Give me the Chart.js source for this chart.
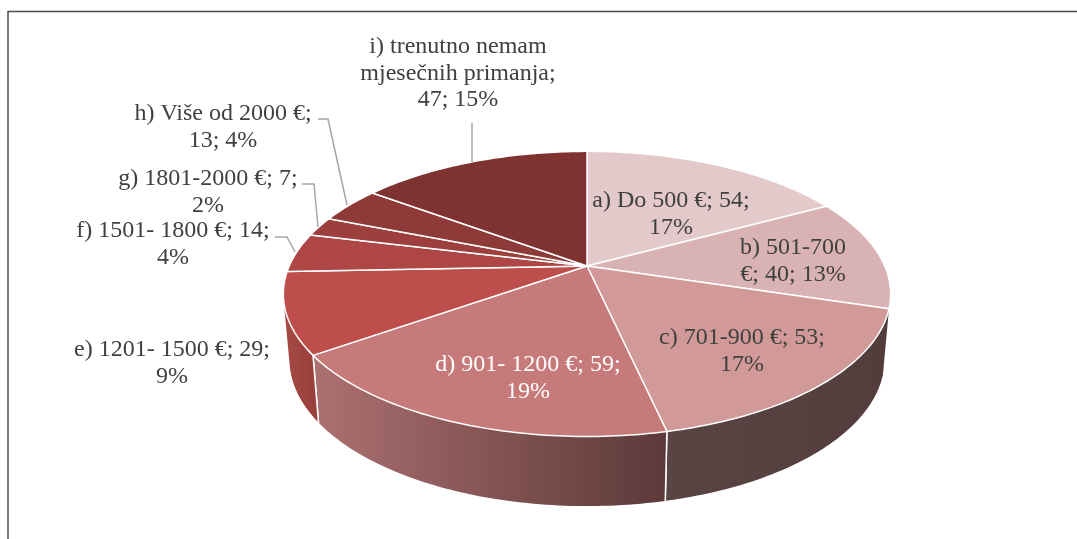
<!DOCTYPE html>
<html>
<head>
<meta charset="utf-8">
<title>Mjesečna primanja</title>
<style>
  html, body { margin: 0; padding: 0; background: #fff; }
  #wrap { position: relative; width: 1077px; height: 539px; }
</style>
<script src="https://cdn.jsdelivr.net/npm/chart.js@4/dist/chart.umd.js"></script>
</head>
<body>
<div id="wrap"><canvas id="pie"></canvas></div>
<script>
const categories = ['a) Do 500 €', 'b) 501-700 €', 'c) 701-900 €', 'd) 901- 1200 €', 'e) 1201- 1500 €', 'f) 1501- 1800 €', 'g) 1801-2000 €', 'h) Više od 2000 €', 'i) trenutno nemam mjesečnih primanja']
const values = [54, 40, 53, 59, 29, 14, 7, 13, 47]

const sliceColors = ['#e3c9c9', '#d9b3b3', '#d19998', '#c67a79', '#bd4e4b', '#ad4644', '#9c3f3d', '#8e3a38', '#7f3331']
const wallColors = [
  ['#523c3c', '#523c3c'], ['#523c3c', '#523c3c'], ['#5a4545', '#523c3c'],
  ['#ad7070', '#5c3939'], ['#a64a45', '#973e3a'], ['#973e3a', '#973e3a'],
  ['#973e3a', '#973e3a'], ['#973e3a', '#973e3a'], ['#973e3a', '#973e3a'],
]

// words per line, the rest goes on the last line
const labelWraps = [[5], [2], [4], [5], [5], [5], [4], [5], [3, 2]]
const labelCenters = [[671, 201], [793, 248], [742, 338], [528, 365], [172, 350], [173, 231], [208, 179], [223, 114], [458, 47]]
const labelColors = ['#404040', '#404040', '#404040', '#ffffff', '#404040', '#404040', '#404040', '#404040', '#404040']
const leaders = [
  [[472, 123], [472, 162]],
  [[318, 119], [328, 119], [347, 205]],
  [[302, 184], [314, 184], [318, 227]],
  [[275, 237], [287, 237], [295, 252]],
]

// perspective of the pie top, relative to the radius Chart.js gives the arcs
const X_SCALE = 1.1226
const Y_SCALE = 0.5169
const TILT = 0.1958
// the bottom of the pie is the top moved down and slightly smaller
const BOTTOM_X = 0.98
const BOTTOM_Y = 1.03
const BOTTOM_SHIFT = 56.5
const STEP = Math.PI / 180

function project(el, angle) {
  const u = Math.cos(angle)
  const v = Math.sin(angle)
  const d = 1 - TILT * v
  return [el.x + el.outerRadius * X_SCALE * u / d, el.y + el.outerRadius * Y_SCALE * v / d]
}

function projectBottom(el, angle) {
  const [x, y] = project(el, angle)
  return [el.x + (x - el.x) * BOTTOM_X, y * BOTTOM_Y + BOTTOM_SHIFT]
}

function anglesOf(el) {
  const list = []
  for (let a = el.startAngle; a < el.endAngle; a += STEP) list.push(a)
  list.push(el.endAngle)
  return list
}

function signedArea(pts) {
  return pts.reduce((s, p, i) => {
    const q = pts[(i + 1) % pts.length]
    return s + p[0] * q[1] - q[0] * p[1]
  }, 0)
}

class PerspectiveArc extends Chart.ArcElement {
  static id = 'perspectiveArc'

  draw(ctx) {
    const o = this.options
    ctx.save()
    ctx.beginPath()
    ctx.moveTo(this.x, this.y)
    anglesOf(this).forEach((a) => ctx.lineTo(...project(this, a)))
    ctx.closePath()
    ctx.fillStyle = o.backgroundColor
    ctx.fill()
    ctx.strokeStyle = o.borderColor
    ctx.lineWidth = o.borderWidth
    ctx.lineJoin = 'round'
    ctx.stroke()
    ctx.restore()
  }

  drawWall(ctx, colors) {
    const angles = anglesOf(this)
    const top = angles.map((a) => project(this, a))
    const bottom = angles.map((a) => projectBottom(this, a))
    const xs = top.concat(bottom).map((p) => p[0])
    const grad = ctx.createLinearGradient(Math.min(...xs), 0, Math.max(...xs), 0)
    grad.addColorStop(0, colors[0])
    grad.addColorStop(1, colors[1])
    ctx.save()
    ctx.fillStyle = grad
    // all quads in one path, same winding, so there are no seams and the
    // outline past the widest point is filled too
    ctx.beginPath()
    for (let i = 0; i < angles.length - 1; i++) {
      const quad = [top[i], top[i + 1], bottom[i + 1], bottom[i]]
      if (signedArea(quad) < 0) quad.reverse()
      quad.forEach((p, n) => (n ? ctx.lineTo(p[0], p[1]) : ctx.moveTo(p[0], p[1])))
      ctx.closePath()
    }
    ctx.fill()
    // white edge only where a slice side faces the viewer
    ctx.strokeStyle = this.options.borderColor
    ctx.lineWidth = this.options.borderWidth
    ;[0, angles.length - 1].forEach((i) => {
      if (Math.sin(angles[i]) < 0.3) return
      ctx.beginPath()
      ctx.moveTo(top[i][0], top[i][1])
      ctx.lineTo(bottom[i][0], bottom[i][1])
      ctx.stroke()
    })
    ctx.restore()
  }
}

class Pie3dController extends Chart.PieController {
  static id = 'pie3d'
  static defaults = { dataElementType: 'perspectiveArc' }

  draw() {
    const ctx = this.chart.ctx
    const arcs = this.getMeta().data
    const mid = (el) => Math.sin((el.startAngle + el.endAngle) / 2)
    // only slices on the front half show a wall
    arcs.forEach((el, i) => {
      if (mid(el) > 0) el.drawWall(ctx, wallColors[i])
    })
    arcs.forEach((el) => el.draw(ctx))
  }
}

Chart.register(PerspectiveArc, Pie3dController)

const total = values.reduce((s, v) => s + v, 0)

function labelLines(i) {
  const text = categories[i] + '; ' + values[i] + '; ' + Math.round(values[i] / total * 100) + '%'
  const words = text.split(' ')
  const lines = labelWraps[i].map((n) => words.splice(0, n).join(' '))
  lines.push(words.join(' '))
  return lines
}

const sliceLabels = {
  id: 'sliceLabels',
  afterDraw(chart) {
    const ctx = chart.ctx
    ctx.save()
    // frame of the original chart area
    ctx.strokeStyle = '#4d4d4d'
    ctx.lineWidth = 1.5
    ctx.beginPath()
    ctx.moveTo(8, 539)
    ctx.lineTo(8, 11.5)
    ctx.lineTo(1077, 11.5)
    ctx.stroke()

    ctx.strokeStyle = '#a6a6a6'
    ctx.lineWidth = 1.5
    leaders.forEach((line) => {
      ctx.beginPath()
      line.forEach((p, i) => (i ? ctx.lineTo(p[0], p[1]) : ctx.moveTo(p[0], p[1])))
      ctx.stroke()
    })

    ctx.font = '24px "Liberation Serif"'
    ctx.textAlign = 'center'
    ctx.textBaseline = 'middle'
    categories.forEach((c, i) => {
      ctx.fillStyle = labelColors[i]
      labelLines(i).forEach((line, n) => {
        ctx.fillText(line, labelCenters[i][0], labelCenters[i][1] + n * 26.5)
      })
    })
    ctx.restore()
  },
}

new Chart(document.getElementById('pie'), {
  type: 'pie3d',
  data: {
    labels: categories,
    datasets: [{
      data: values,
      backgroundColor: sliceColors,
      borderColor: '#ffffff',
      borderWidth: 1.5,
    }],
  },
  options: {
    responsive: true,
    maintainAspectRatio: false,
    animation: false,
    layout: { padding: { left: 97, bottom: 7 } },
    plugins: { legend: { display: false }, tooltip: { enabled: false } },
  },
  plugins: [sliceLabels],
})
</script>
</body>
</html>
